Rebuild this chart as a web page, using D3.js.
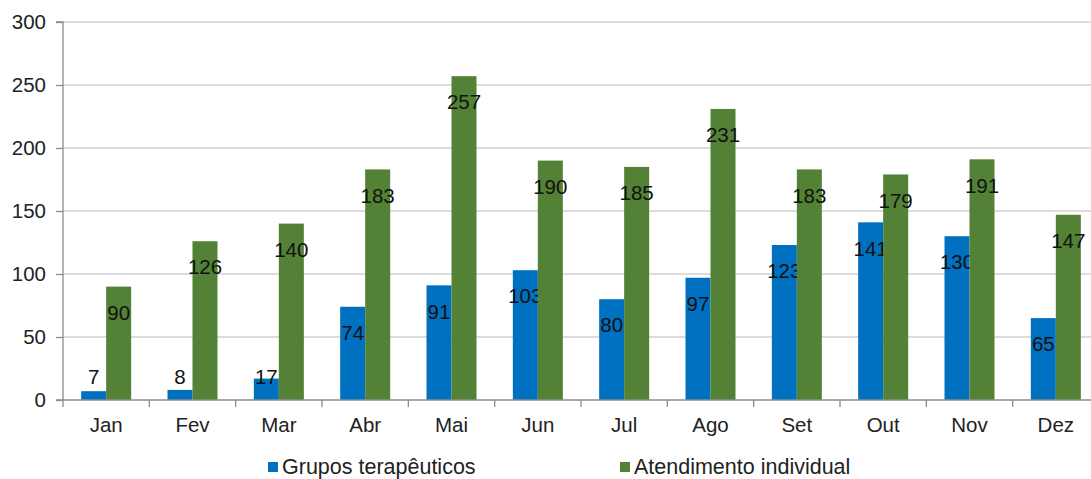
<!DOCTYPE html>
<html><head><meta charset="utf-8">
<script src="https://cdn.jsdelivr.net/npm/d3@7"></script>
<style>body{margin:0;background:#fff;overflow:hidden}svg{display:block;font-family:"Liberation Sans",Arial,sans-serif}</style>
</head><body>
<script>
const months = ["Jan","Fev","Mar","Abr","Mai","Jun","Jul","Ago","Set","Out","Nov","Dez"];
const grupos = [7,8,17,74,91,103,80,97,123,141,130,65];
const atendimento = [90,126,140,183,257,190,185,231,183,179,191,147];
const seriesNames = ["Grupos terapêuticos","Atendimento individual"];
const seriesColors = ["#0070c0","#538135"];
const yTicks = [0,50,100,150,200,250,300];

const W=1091,H=479;
const svg=d3.select("body").append("svg").attr("width",W).attr("height",H);
const x0=63, x1=1099, yb=400, yt=22;
const x=d3.scaleBand().domain(months).range([x0,x1]).paddingInner(0).paddingOuter(0);
const y=d3.scaleLinear().domain([0,300]).range([yb,yt]);
const barW=25;

// gridlines
svg.append("g").selectAll("line").data(yTicks.filter(d=>d>0)).join("line")
  .attr("x1",x0).attr("x2",x1).attr("y1",d=>y(d)).attr("y2",d=>y(d))
  .attr("stroke","#d0d0d0").attr("stroke-width",1.3);

// y axis
const ya=svg.append("g").attr("transform",`translate(${x0},0)`)
  .call(d3.axisLeft(y).tickValues(yTicks).tickSize(7).tickPadding(10));
ya.select(".domain").attr("stroke","#8c8c8c").attr("stroke-width",1.3).attr("d",`M-7,${yt}H0V${yb}`);
ya.selectAll(".tick line").attr("stroke","#8c8c8c").attr("stroke-width",1.3);
ya.selectAll("text").attr("font-size",20.5).attr("fill","#222").attr("font-family","Liberation Sans, Arial, sans-serif");

// bars
const data=[grupos,atendimento];
data.forEach((vals,si)=>{
  const g=svg.append("g");
  g.selectAll("rect").data(vals).join("rect")
    .attr("x",(d,i)=>x(months[i])+x.bandwidth()/2-barW+si*barW)
    .attr("width",barW)
    .attr("y",d=>y(d)).attr("height",d=>yb-y(d))
    .attr("fill",seriesColors[si]);
  g.selectAll("text").data(vals).join("text")
    .attr("x",(d,i)=>x(months[i])+x.bandwidth()/2-barW/2+si*barW)
    .attr("y",d=>Math.min(y(d)+26,377)).attr("dy","0.35em")
    .attr("text-anchor","middle").attr("font-size",20.5).attr("fill","#111")
    .text(d=>d);
});

// x axis
const xa=svg.append("g");
xa.append("line").attr("x1",x0-7).attr("x2",x1).attr("y1",yb).attr("y2",yb).attr("stroke","#8c8c8c").attr("stroke-width",1.3);
const bounds=d3.range(13).map(i=>x0+i*x.step());
xa.selectAll("line.t").data(bounds).join("line").attr("class","t")
  .attr("x1",d=>d).attr("x2",d=>d).attr("y1",yb).attr("y2",yb+7).attr("stroke","#8c8c8c").attr("stroke-width",1.3);
xa.selectAll("text").data(months).join("text")
  .attr("x",d=>x(d)+x.bandwidth()/2).attr("y",432).attr("text-anchor","middle")
  .attr("font-size",20.5).attr("fill","#222").text(d=>d);

// legend
const legX=[268,620];
seriesNames.forEach((n,i)=>{
  svg.append("rect").attr("x",legX[i]).attr("y",462).attr("width",10).attr("height",10).attr("fill",seriesColors[i]);
  svg.append("text").attr("x",legX[i]+14).attr("y",474).attr("font-size",21.5).attr("fill","#222").text(n);
});
</script>
</body></html>
